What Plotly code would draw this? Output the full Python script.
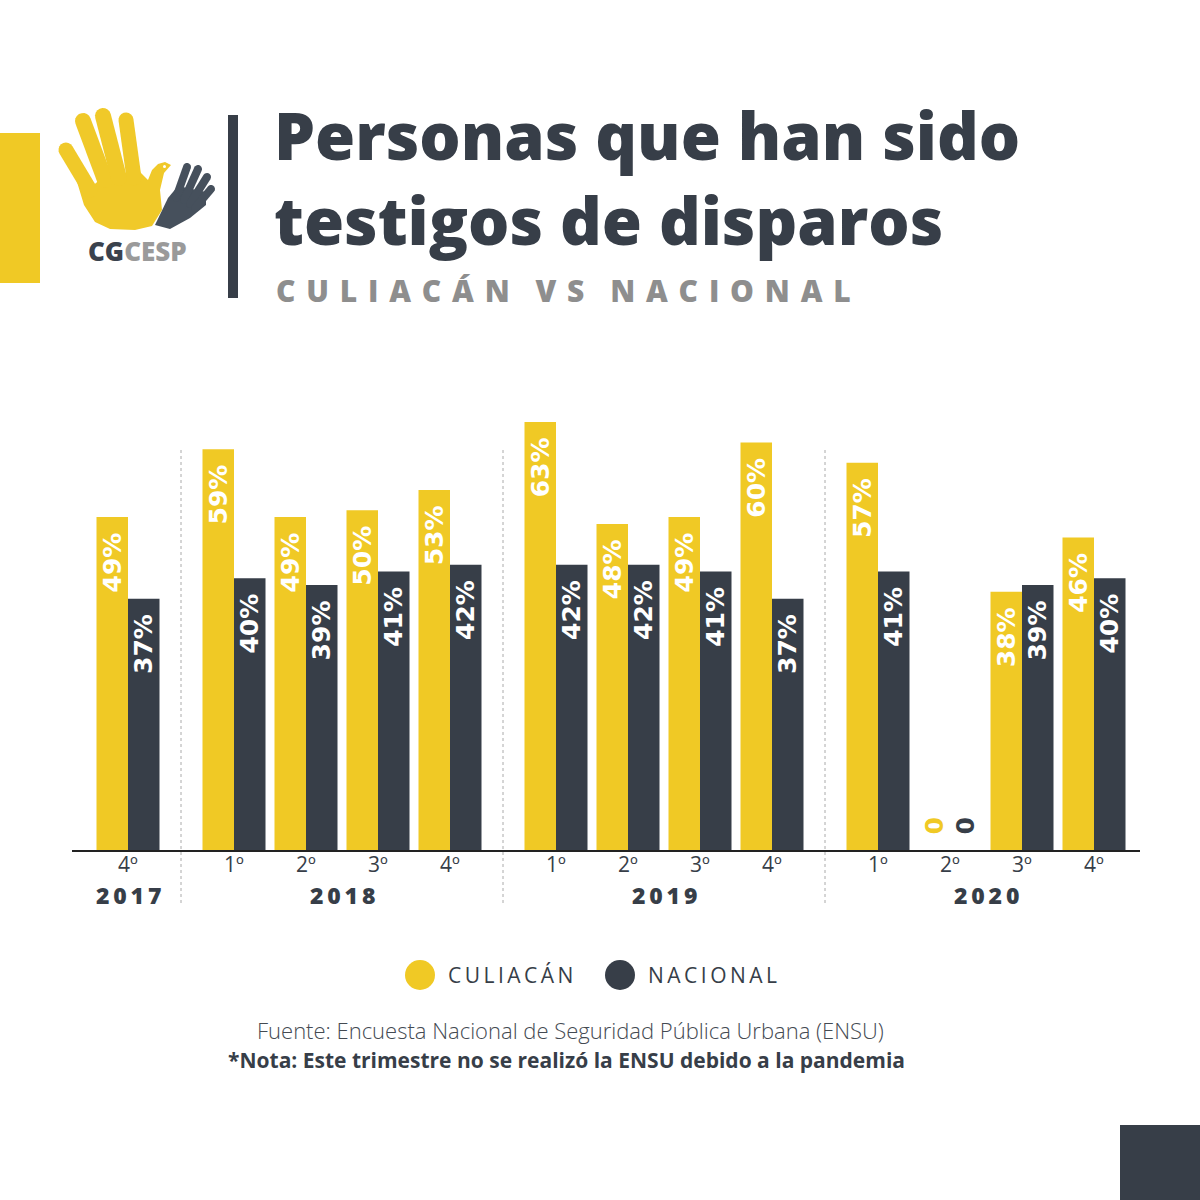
import numpy as np
import plotly.graph_objects as go

# ---------------- data ----------------
years = ["2017", "2018", "2019", "2020"]
year_quarters = [[4], [1, 2, 3, 4], [1, 2, 3, 4], [1, 2, 3, 4]]
culiacan = [49, 59, 49, 50, 53, 63, 48, 49, 60, 57, 0, 38, 46]
nacional = [37, 40, 39, 41, 42, 42, 42, 41, 37, 41, 0, 39, 40]
quarter_labels = {1: "1º", 2: "2º", 3: "3º", 4: "4º"}
series_names = ["CULIACÁN", "NACIONAL"]

YELLOW = "#f0c925"
DARK = "#373e48"
W, H = 1200, 1200
YEAR_GAP = 34 / 72  # extra spacing between year groups (in slot units)

# positions computed from the grouping
xpos, xlabels, year_of = [], [], []
slot = 0
for yi, (yr, qs) in enumerate(zip(years, year_quarters)):
    for q in qs:
        xpos.append(slot + yi * YEAR_GAP)
        xlabels.append(quarter_labels[q])
        year_of.append(yi)
        slot += 1

def px(x):
    return x / W

def py(y):
    return 1 - y / H

fig = go.Figure()

def txt(v):
    return [f"{x}%\u2002" if x > 0 else "\u20020" for x in v]

LABEL_FONT = "DejaVu Sans"
for vals, color, name in [(culiacan, YELLOW, series_names[0]), (nacional, DARK, series_names[1])]:
    fig.add_trace(go.Bar(
        x=xpos, y=vals, name=name, marker=dict(color=color, line=dict(width=0)),
        text=txt(vals),
        textposition=["inside" if v > 0 else "outside" for v in vals],
        insidetextanchor="end",
        textangle=-90,
        constraintext="none",
        cliponaxis=False,
        insidetextfont=dict(family=LABEL_FONT, size=25, color="white", weight=700),
        outsidetextfont=dict(family=LABEL_FONT, size=25, color=color, weight=700),
        showlegend=False,
    ))

# axis geometry
X0, X1 = 72, 1140
BASE, TOP = 850, 400
slot_px = 72
first_center = 128
xr = [(X0 - first_center) / slot_px, (X1 - first_center) / slot_px]
unit = (850 - 422) / 63
yr_max = (BASE - TOP) / unit

fig.update_layout(
    width=W, height=H, margin=dict(l=0, r=0, t=0, b=0),
    paper_bgcolor="white", plot_bgcolor="white",
    barmode="group", bargap=0.125, bargroupgap=0,
    xaxis=dict(domain=[px(X0), px(X1)], range=xr, showgrid=False, zeroline=False,
               showline=True, linecolor="#222", linewidth=2,
               showticklabels=False, ticks=""),
    yaxis=dict(domain=[py(BASE), py(TOP)], range=[0, yr_max], visible=False),
)

# quarter labels (positioned on the x axis scale)
for p, lab in zip(xpos, xlabels):
    fig.add_annotation(x=p, y=py(864), xref="x", yref="paper", text=lab, showarrow=False,
                       font=dict(family="Open Sans", size=21, color=DARK),
                       xanchor="center", yanchor="middle")

# year separators
for yi in range(1, len(years)):
    prev = max(p for p, y in zip(xpos, year_of) if y == yi - 1)
    nxt = min(p for p, y in zip(xpos, year_of) if y == yi)
    xs = (prev + nxt) / 2
    fig.add_shape(type="line", xref="x", yref="paper", x0=xs, x1=xs, y0=py(450), y1=py(903),
                  line=dict(color="#aaaaaa", width=1, dash="dot"))

# year labels
for yi, yr in enumerate(years):
    ps = [p for p, y in zip(xpos, year_of) if y == yi]
    fig.add_annotation(x=(min(ps) + max(ps)) / 2, y=py(895), xref="x", yref="paper",
                       text="\u2009".join(yr), showarrow=False,
                       font=dict(family="Open Sans", size=23, color=DARK, weight=800),
                       xanchor="center", yanchor="middle")

# decorative rectangles
fig.add_shape(type="rect", xref="paper", yref="paper", x0=px(0), x1=px(40), y0=py(283), y1=py(133),
              fillcolor=YELLOW, line=dict(width=0))
fig.add_shape(type="rect", xref="paper", yref="paper", x0=px(228), x1=px(238), y0=py(298), y1=py(115),
              fillcolor=DARK, line=dict(width=0))
fig.add_shape(type="rect", xref="paper", yref="paper", x0=px(1120), x1=px(1200), y0=py(1200), y1=py(1125),
              fillcolor=DARK, line=dict(width=0))

# logo
def path_from(pts):
    return "M " + " L ".join(f"{px(x):.5f},{py(y):.5f}" for x, y in pts) + " Z"

def capsule(p0, p1, w):
    p0 = np.array(p0, float); p1 = np.array(p1, float)
    d = p1 - p0; d /= np.linalg.norm(d)
    n = np.array([-d[1], d[0]])
    r = w / 2
    pts = []
    ang0 = np.arctan2(n[1], n[0])
    for t in np.linspace(0, np.pi, 10):
        a = ang0 + t
        pts.append(tuple(p0 + r * np.array([np.cos(a), np.sin(a)])))
    for t in np.linspace(0, np.pi, 10):
        a = ang0 + np.pi + t
        pts.append(tuple(p1 + r * np.array([np.cos(a), np.sin(a)])))
    return pts

HAND2 = "#46505c"
dark_palm = [(155, 225), (168, 198), (178, 186), (206, 192), (206, 205), (190, 218), (170, 229)]
fig.add_shape(type="path", xref="paper", yref="paper", path=path_from(dark_palm),
              fillcolor=HAND2, line=dict(width=0))
for a, b in [((187, 167), (176, 198)), ((198, 169), (184, 200)), ((207, 177), (190, 204)), ((211, 189), (195, 208))]:
    fig.add_shape(type="path", xref="paper", yref="paper", path=path_from(capsule(a, b, 8)),
                  fillcolor=HAND2, line=dict(width=0))

LOGO_Y = "#f0c929"
palm = [(74, 172), (88, 190), (104, 176), (140, 172), (148, 180), (152, 170), (158, 164), (165, 162),
        (171, 165), (164, 173), (160, 190), (162, 210), (152, 226), (135, 230), (110, 229), (95, 222), (84, 205)]
fig.add_shape(type="path", xref="paper", yref="paper", path=path_from(palm),
              fillcolor=LOGO_Y, line=dict(width=0))
for a, b, w in [((66, 150), (90, 190), 15), ((83, 121), (105, 180), 16), ((103, 116), (119, 178), 16), ((126, 120), (134, 178), 15)]:
    fig.add_shape(type="path", xref="paper", yref="paper", path=path_from(capsule(a, b, w)),
                  fillcolor=LOGO_Y, line=dict(width=0))
fig.add_shape(type="circle", xref="paper", yref="paper", x0=px(163), x1=px(166), y0=py(168), y1=py(165),
              fillcolor="white", line=dict(width=0))

fig.add_annotation(x=px(137), y=py(251), xref="paper", yref="paper", showarrow=False,
                   text="<span style='color:#3a424d'>CG</span><span style='color:#9a9a9a'>CESP</span>",
                   font=dict(family="Open Sans", size=26, weight=800), xanchor="center", yanchor="middle")

# titles
fig.add_annotation(x=px(272), y=py(178), xref="paper", yref="paper", showarrow=False,
                   text="Personas que han sido<br>testigos de disparos", align="left",
                   font=dict(family="Open Sans", size=65, color=DARK, weight=800),
                   xanchor="left", yanchor="middle")
fig.add_annotation(x=px(274), y=py(291), xref="paper", yref="paper", showarrow=False,
                   text=" \u200a".join("CULIACÁN VS NACIONAL").replace("  \u200a", "\u2002"),
                   font=dict(family="Open Sans", size=30, color="#8e8e8e", weight=800),
                   xanchor="left", yanchor="middle")

# legend
for cx, color, name in [(420, YELLOW, series_names[0]), (620, DARK, series_names[1])]:
    fig.add_shape(type="circle", xref="paper", yref="paper", x0=px(cx - 15), x1=px(cx + 15),
                  y0=py(990), y1=py(960), fillcolor=color, line=dict(width=0))
    fig.add_annotation(x=px(cx + 26), y=py(975), xref="paper", yref="paper", showarrow=False,
                       text="\u2009".join(name), xanchor="left", yanchor="middle",
                       font=dict(family="Open Sans", size=21, color=DARK))

# footnotes
fig.add_annotation(x=px(570), y=py(1030), xref="paper", yref="paper", showarrow=False,
                   text="Fuente: Encuesta Nacional de Seguridad Pública Urbana (ENSU)",
                   font=dict(family="Open Sans", size=22, color="#444a52", weight=300),
                   xanchor="center", yanchor="middle")
fig.add_annotation(x=px(566), y=py(1060), xref="paper", yref="paper", showarrow=False,
                   text="*Nota: Este trimestre no se realizó la ENSU debido a la pandemia",
                   font=dict(family="Open Sans", size=21, color=DARK, weight=700),
                   xanchor="center", yanchor="middle")

fig.write_html("out.html")
